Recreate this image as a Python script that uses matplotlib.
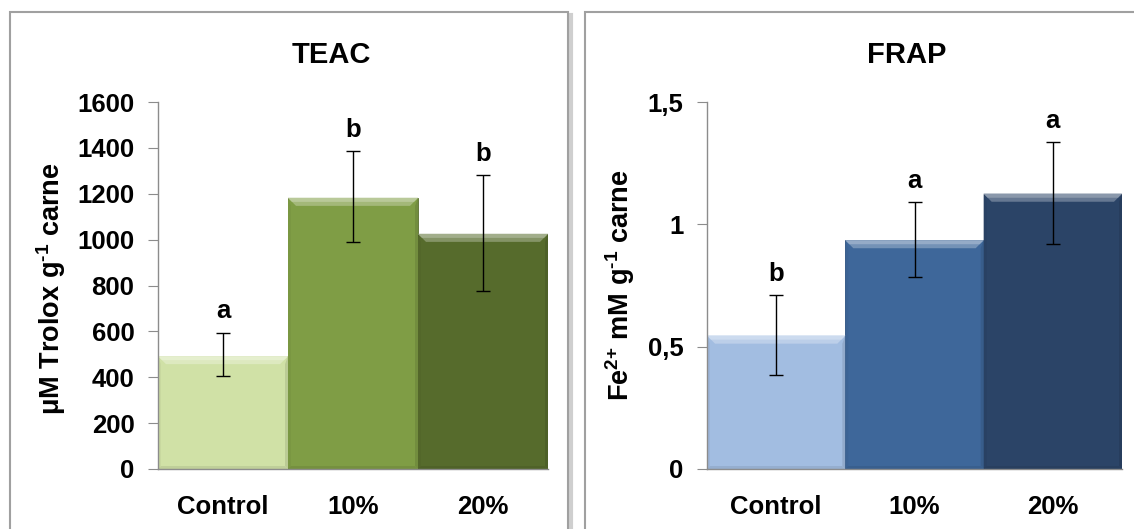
import matplotlib
matplotlib.use("Agg")
import matplotlib.pyplot as plt
from matplotlib.patches import Rectangle, Polygon
from matplotlib.ticker import FuncFormatter
from matplotlib.colors import to_rgb

plt.rcParams['font.family'] = ['Liberation Sans', 'DejaVu Sans']
plt.rcParams['font.weight'] = 'bold'
plt.rcParams['mathtext.fontset'] = 'custom'
plt.rcParams['mathtext.rm'] = 'Liberation Sans:bold'
plt.rcParams['mathtext.bf'] = 'Liberation Sans:bold'
plt.rcParams['mathtext.default'] = 'bf'

categories = ['Control', '10%', '20%']

teac_values = [492, 1182, 1025]
teac_err_low = [405, 990, 775]
teac_err_high = [595, 1385, 1280]
teac_letters = ['a', 'b', 'b']
teac_colors = ['#D0E1A6', '#7F9D45', '#566B2C']
teac_ticks = [0, 200, 400, 600, 800, 1000, 1200, 1400, 1600]

frap_values = [0.545, 0.935, 1.125]
frap_err_low = [0.385, 0.785, 0.92]
frap_err_high = [0.71, 1.09, 1.335]
frap_letters = ['b', 'a', 'a']
frap_colors = ['#A2BDE1', '#3E679A', '#2B4467']
frap_ticks = [0, 0.5, 1, 1.5]

W, H = 1134, 529
FS = 18.5
fig = plt.figure(figsize=(W / 100, H / 100), dpi=100)
fig.patch.set_facecolor('white')

# panel frames
for x0, x1 in [(10, 568), (585, 1145)]:
    fig.patches.append(Rectangle((x0 / W + 3 / W, -0.05), (x1 - x0) / W, (H - 12) / H + 0.05 - 3 / H,
                                 transform=fig.transFigure, facecolor='none',
                                 edgecolor='#CFCFCF', lw=3, zorder=-2))
    fig.patches.append(Rectangle((x0 / W, -0.05), (x1 - x0) / W, (H - 12) / H + 0.05,
                                 transform=fig.transFigure, facecolor='white',
                                 edgecolor='#A0A0A0', lw=1.5, zorder=-1))


def fmt_comma(v, pos):
    return ('%g' % v).replace('.', ',')


def mix(c, other, t):
    c = to_rgb(c)
    o = to_rgb(other)
    return tuple(ci * (1 - t) + oi * t for ci, oi in zip(c, o))


def panel(rect, title, title_x, values, lo, hi, letters, colors, ticks, ylabel, label_x, label_y,
          formatter=None):
    ax = fig.add_axes(rect)
    ax.patch.set_alpha(0)
    x = list(range(len(categories)))
    ax.set_xlim(-0.5, 2.5)
    ax.set_ylim(ticks[0], ticks[-1])
    bars = ax.bar(x, values, width=1.0, color=colors, edgecolor=[mix(c, 'black', 0.3) for c in colors],
                  linewidth=0.6, zorder=2)
    # bevel decoration (derived from bar geometry)
    px_x = 3.0 / (rect[2] * W)
    px_y = (ticks[-1] - ticks[0]) / (rect[3] * H)
    tx, ty = 8 * px_x, 8 * px_y
    sx, sy = 3 * px_x, 3 * px_y
    for b, c in zip(bars, colors):
        x0, x1 = b.get_x(), b.get_x() + b.get_width()
        top = b.get_height()
        ax.add_patch(Polygon([(x0, top), (x1, top), (x1 - tx, top - ty), (x0 + tx, top - ty)],
                             closed=True, facecolor=mix(c, 'white', 0.28), edgecolor='none', zorder=2.1))
        ax.add_patch(Polygon([(x0, top), (x1, top), (x1 - tx * 0.5, top - ty * 0.5),
                              (x0 + tx * 0.5, top - ty * 0.5)],
                             closed=True, facecolor=mix(c, 'white', 0.45), edgecolor='none', zorder=2.15))
        ax.add_patch(Polygon([(x0, 0), (x0 + sx, sy), (x0 + sx, top - ty), (x0, top)],
                             closed=True, facecolor=mix(c, 'black', 0.04), edgecolor='none', zorder=2.05))
        ax.add_patch(Polygon([(x1, 0), (x1 - sx, sy), (x1 - sx, top - ty), (x1, top)],
                             closed=True, facecolor=mix(c, 'black', 0.10), edgecolor='none', zorder=2.05))
        ax.add_patch(Polygon([(x0, 0), (x1, 0), (x1 - sx, sy), (x0 + sx, sy)],
                             closed=True, facecolor=mix(c, 'black', 0.08), edgecolor='none', zorder=2.05))
    yerr = [[v - l for v, l in zip(values, lo)], [h - v for v, h in zip(values, hi)]]
    ax.errorbar(x, values, yerr=yerr, fmt='none', ecolor='black', elinewidth=1.0,
                capsize=5, capthick=1.0, zorder=3)
    for xi, h, t in zip(x, hi, letters):
        ax.annotate(t, (xi, h), xytext=(0, 7), textcoords='offset points',
                    ha='center', va='bottom', fontsize=FS, fontweight='bold')
    ax.set_yticks(ticks)
    if formatter:
        ax.yaxis.set_major_formatter(FuncFormatter(formatter))
    ax.set_xticks(x)
    ax.set_xticklabels(categories)
    for s in ['top', 'right']:
        ax.spines[s].set_visible(False)
    for s in ['left', 'bottom']:
        ax.spines[s].set_color('#8C8C8C')
        ax.spines[s].set_linewidth(1.0)
    ax.tick_params(axis='y', direction='out', length=7, color='#8C8C8C', labelsize=FS, pad=10)
    ax.tick_params(axis='x', length=0, labelsize=FS, pad=19)
    for lab in ax.get_xticklabels() + ax.get_yticklabels():
        lab.set_fontweight('bold')
    ax.set_ylabel(ylabel, fontsize=19.5, fontweight='bold')
    ax.yaxis.set_label_coords(label_x, label_y)
    fig.text(title_x / W, 1 - 63 / H, title, ha='center', va='baseline', fontsize=21, fontweight='bold')
    return ax


panel([158 / W, 1 - 469 / H, (548 - 158) / W, 367 / H], 'TEAC', 331,
      teac_values, teac_err_low, teac_err_high, teac_letters, teac_colors, teac_ticks,
      r'μM Trolox g$^{\text{-1}}$ carne', -0.231, 0.49)
panel([707 / W, 1 - 469 / H, (1122 - 707) / W, 367 / H], 'FRAP', 907,
      frap_values, frap_err_low, frap_err_high, frap_letters, frap_colors, frap_ticks,
      r'Fe$^{\text{2+}}$ mM g$^{\text{-1}}$ carne', -0.169, 0.5, fmt_comma)

fig.savefig('out.png', dpi=100, facecolor='white')
